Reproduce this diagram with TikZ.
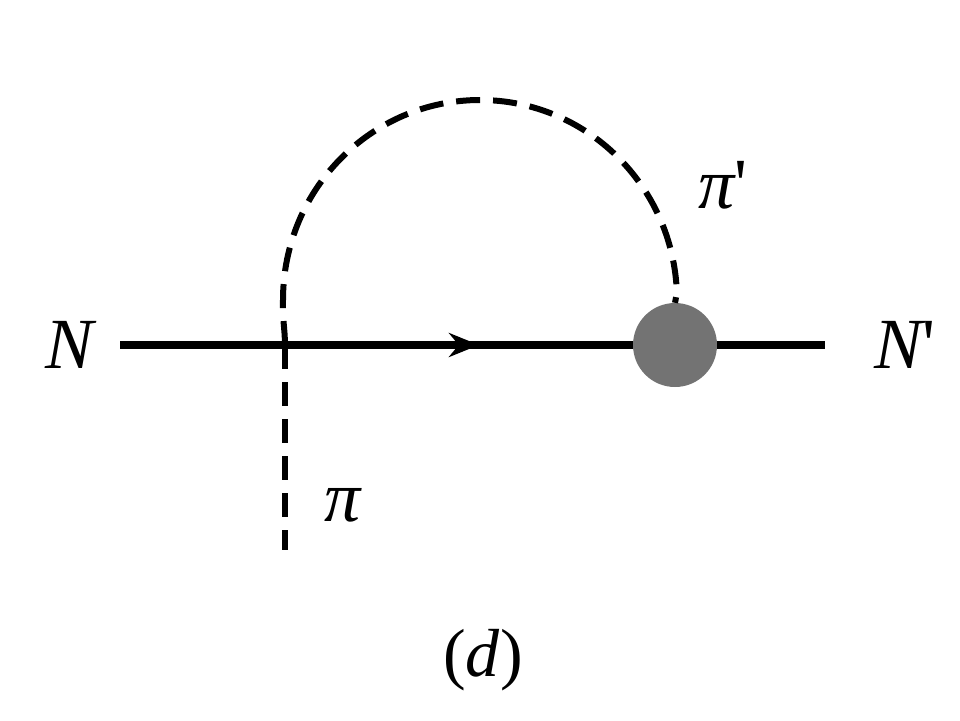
\documentclass[tikz,border=0pt]{standalone}
\usepackage{fontspec}
\setmainfont{Liberation Serif}
\usetikzlibrary{decorations.markings,arrows.meta}
\begin{document}
\begin{tikzpicture}[x=1pt,y=-1pt,
 lbl/.style={font=\fontsize{72}{72}\selectfont\itshape, inner sep=0pt},
 ferm/.style={line width=8pt},
 pion/.style={line width=6pt, dash pattern=on 24pt off 13pt}]
\useasboundingbox (0,0) rectangle (960,720);
\coordinate (a) at (120,345);
\coordinate (b) at (825,345);
\coordinate (v) at (285,345);
\coordinate (pe) at (285,550);
\node[circle, fill=black!55, minimum size=84pt, inner sep=0pt] (blob) at (675,345) {};
\draw[ferm, postaction={decorate}, decoration={markings, mark=at position 0.7 with {\arrow{Stealth[length=30pt,width=24pt]}}}] (a) -- (blob.west);
\draw[ferm] (blob.east) -- (b);
\draw[pion] (v) -- (pe);
\draw[pion] (v) .. controls (285,330) and (282,315) .. (283,300) arc[start angle=180, end angle=358, x radius=197, y radius=200] -- (blob.north);
\node[lbl] (n1) at (70,345) {N};
\node[lbl] (n2) at (905,345) {N\upshape\textquotesingle};
\node[lbl] (p1) at (343,505) {π};
\node[lbl] (p2) at (723,185) {π\upshape\textquotesingle};
\node[inner sep=0pt, font=\fontsize{68}{68}\selectfont] (d) at (483,660) {(\textit{d})};
\end{tikzpicture}
\end{document}
